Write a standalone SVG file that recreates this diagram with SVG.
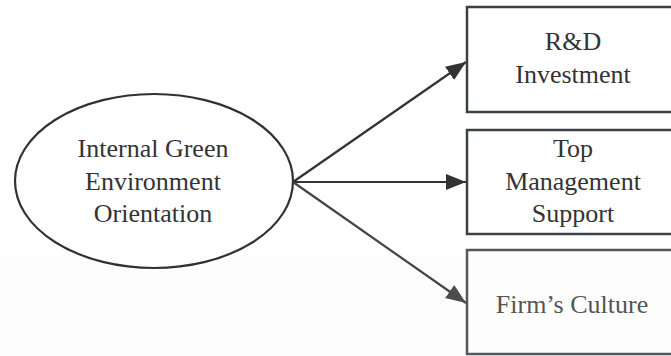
<svg xmlns="http://www.w3.org/2000/svg" width="671" height="356" viewBox="0 0 671 356">
  <style>
    .lbl { font-family: "Liberation Serif", "DejaVu Serif", serif; font-size: 26px; fill: #333; text-anchor: middle; }
    .box { fill: #fff; stroke: #3c4146; stroke-width: 2.5; }
    .edge { stroke: #333; stroke-width: 2.2; fill: none; marker-end: url(#arrow); }
  </style>
  <defs>
    <marker id="arrow" markerUnits="userSpaceOnUse" markerWidth="22" markerHeight="18" refX="20" refY="8" orient="auto">
      <path d="M0,0 L20,8 L0,16 Z" fill="#333"/>
    </marker>
    <marker id="arrowLight" markerUnits="userSpaceOnUse" markerWidth="22" markerHeight="18" refX="20" refY="8" orient="auto">
      <path d="M0,0 L20,8 L0,16 Z" fill="#4d4d4d"/>
    </marker>
  </defs>
  <rect x="0" y="0" width="671" height="356" fill="#fff"/>
  <rect x="0" y="255" width="671" height="101" fill="#fdfdfd"/>

  <g id="connectors">
    <line class="edge" x1="293" y1="182" x2="466" y2="62"/>
    <line class="edge" x1="293" y1="182" x2="466" y2="182"/>
    <line class="edge" x1="293" y1="182" x2="466" y2="303" style="stroke:#444;marker-end:url(#arrowLight)"/>
  </g>

  <g id="orientation">
    <ellipse cx="154" cy="181" rx="139" ry="87" fill="#fff" stroke="#2d3238" stroke-width="2.2"/>
    <text class="lbl" font-family="Liberation Serif" x="153" y="157">Internal Green</text>
    <text class="lbl" font-family="Liberation Serif" x="153" y="190">Environment</text>
    <text class="lbl" font-family="Liberation Serif" x="153" y="222">Orientation</text>
  </g>

  <g id="rd-investment">
    <rect class="box" x="467" y="7" width="220" height="105"/>
    <text class="lbl" x="573" y="50">R&amp;D</text>
    <text class="lbl" x="573" y="83">Investment</text>
  </g>

  <g id="top-management">
    <rect class="box" x="467" y="130" width="220" height="104"/>
    <text class="lbl" x="573" y="157">Top</text>
    <text class="lbl" x="573" y="190">Management</text>
    <text class="lbl" x="573" y="222">Support</text>
  </g>

  <g id="firm-culture">
    <rect class="box" x="467" y="250" width="220" height="104" style="fill:#fdfdfd;stroke:#52575c"/>
    <text class="lbl" x="572" y="313" style="fill:#555">Firm’s Culture</text>
  </g>
</svg>
